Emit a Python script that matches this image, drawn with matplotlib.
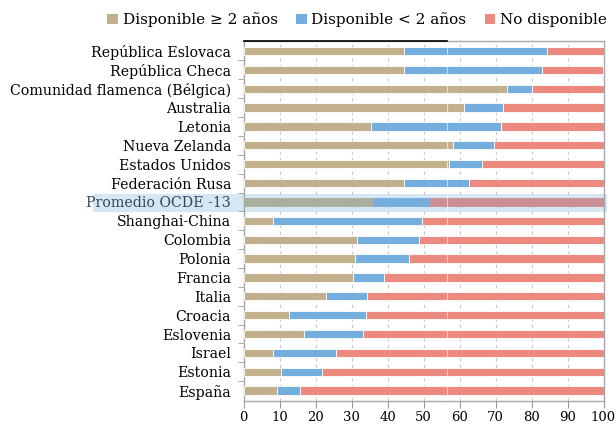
import matplotlib
matplotlib.use("Agg")
import matplotlib.pyplot as plt
from matplotlib.patches import Rectangle, Patch
import numpy as np

plt.rcParams['font.family'] = ['DejaVu Serif']

categories = ["República Eslovaca", "República Checa", "Comunidad flamenca (Bélgica)",
              "Australia", "Letonia", "Nueva Zelanda", "Estados Unidos", "Federación Rusa",
              "Promedio OCDE -13", "Shanghai-China", "Colombia", "Polonia", "Francia",
              "Italia", "Croacia", "Eslovenia", "Israel", "Estonia", "España"]
disp_ge2 = [44.7, 44.5, 73.1, 61.3, 35.3, 58.3, 57.2, 44.7, 36.0, 8.3, 31.5, 31.1, 30.4,
            22.8, 12.7, 16.9, 8.3, 10.5, 9.3]
disp_lt2 = [39.7, 38.3, 7.1, 10.9, 36.1, 11.4, 9.1, 17.8, 15.7, 41.2, 17.2, 15.0, 8.5,
            11.6, 21.3, 16.2, 17.3, 11.3, 6.3]
no_disp = [100 - a - b for a, b in zip(disp_ge2, disp_lt2)]
legend_labels = ["Disponible ≥ 2 años", "Disponible < 2 años", "No disponible"]
highlight = "Promedio OCDE -13"

c_tan, c_blue, c_red = "#c2b08c", "#74aede", "#ec8a80"
h_tan, h_blue, h_red = "#a9ae9e", "#74aede", "#c98f94"

fig = plt.figure(figsize=(6.16, 4.25), dpi=100)
ax = fig.add_axes([243.5/616, 1-401/425, (603.5-243.5)/616, (401-41)/425])
ax.set_facecolor("none")

# highlight band behind axes
band = Rectangle((93/616, 1-212/425), (607-93)/616, 18/425, transform=fig.transFigure,
                 facecolor="#d7e6f3", edgecolor="none", zorder=-5)
fig.patches.append(band)

y = np.arange(len(categories))
h = 0.44
for i, cat in enumerate(categories):
    hl = cat == highlight
    cols = (h_tan, h_blue, h_red) if hl else (c_tan, c_blue, c_red)
    left = 0
    for val, col in zip((disp_ge2[i], disp_lt2[i], no_disp[i]), cols):
        ax.barh(y[i], val, left=left, height=h, color=col,
                edgecolor="white" if not hl else col, linewidth=0.6, zorder=3)
        left += val

# quirky white line across bars
ax.axvline(56.5, color="white", lw=0.8, alpha=0.6, zorder=4)

ax.set_xlim(0, 100)
ax.set_ylim(len(categories) - 0.45, -0.53)
ax.set_xticks(np.arange(0, 101, 10))
ax.set_yticks(y)
ax.set_yticklabels(categories, fontsize=10.2)
ax.tick_params(axis='y', length=0, pad=9)
ax.set_yticks(np.arange(0.5, len(categories) - 0.5, 1), minor=True)
ax.tick_params(axis='y', which='minor', length=4, color="#999999", direction='out')
ax.tick_params(axis='x', length=5, color="#999999", labelsize=9.5, pad=2)
for lab in ax.get_yticklabels():
    if lab.get_text() == highlight:
        lab.set_color("#33455c")
ax.grid(axis='x', color="#c8c8c8", linestyle=(0, (3, 3)), lw=0.8, zorder=0)
for s in ax.spines.values():
    s.set_color("#a8a8a8")
    s.set_linewidth(1.0)
ax.plot([0, 56.5], [1, 1], transform=ax.get_xaxis_transform(), color="black", lw=1.2,
        clip_on=False, zorder=5)

handles = [Patch(facecolor=c, edgecolor="none") for c in (c_tan, c_blue, c_red)]
fig.legend(handles, legend_labels, loc="center right", bbox_to_anchor=(1.0, 1-20/425),
           ncol=3, frameon=False, fontsize=11, handlelength=0.7, handleheight=0.7,
           handletextpad=0.3, columnspacing=1.2, borderaxespad=0.2)

fig.savefig("out.png", dpi=100)
